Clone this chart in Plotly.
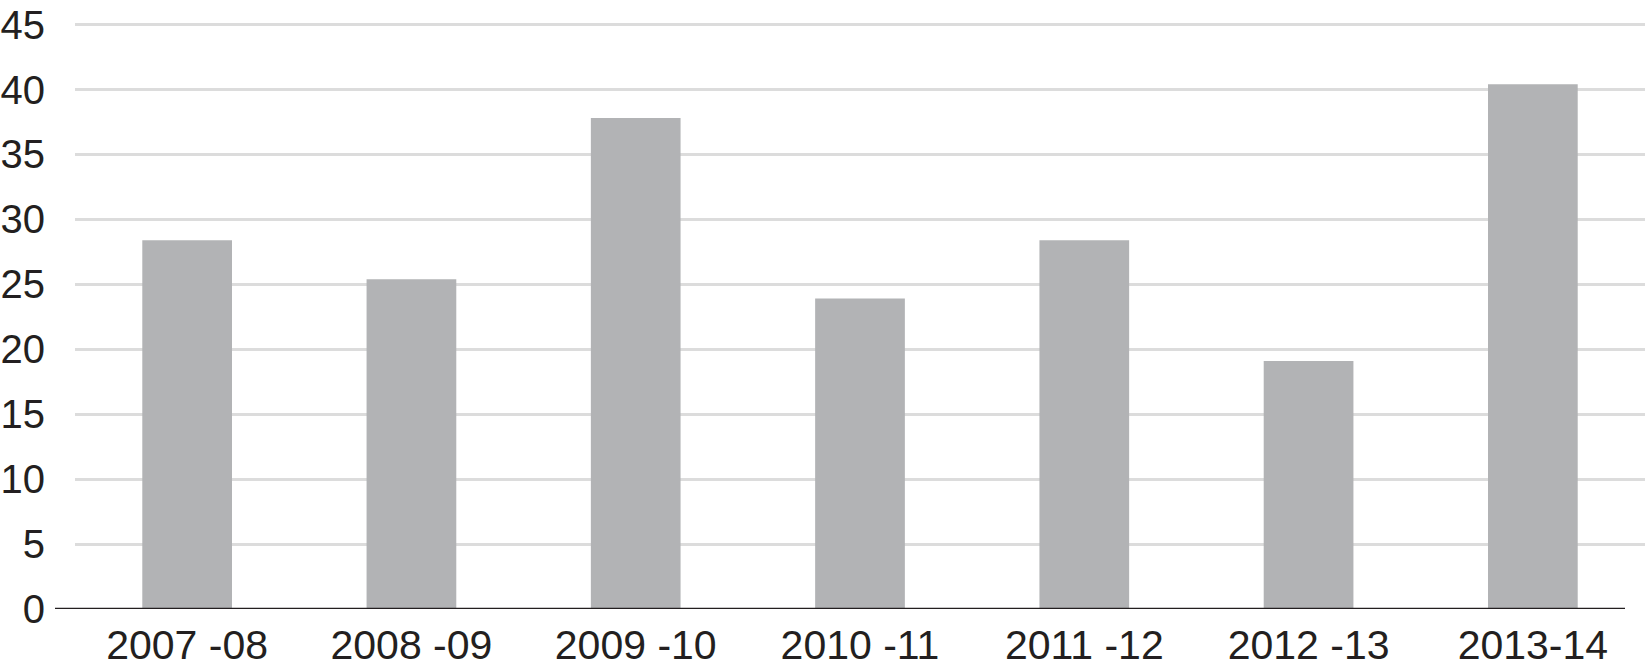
import plotly.graph_objects as go

categories = ["2007 -08", "2008 -09", "2009 -10", "2010 -11", "2011 -12", "2012 -13", "2013-14"]
values = [28.4, 25.4, 37.8, 23.9, 28.4, 19.1, 40.4]
y_ticks = [0, 5, 10, 15, 20, 25, 30, 35, 40, 45]

fig = go.Figure(go.Bar(x=categories, y=values, marker=dict(color="#b2b3b5", line=dict(width=0))))

W, H = 1645, 668
L, R, T, B = 75, 0, 22, 59
pw = W - L - R

fig.update_layout(
    width=W, height=H,
    margin=dict(l=L, r=R, t=T, b=B),
    plot_bgcolor="white", paper_bgcolor="white",
    bargap=0.6,
    showlegend=False,
    font=dict(family="Liberation Sans, Arial, sans-serif", size=40, color="#231f20"),
    xaxis=dict(showgrid=False, showline=False, ticks="", ticklabelstandoff=8,
               tickfont=dict(size=41), automargin=False),
    yaxis=dict(range=[0, 45.2], tickvals=y_ticks, showgrid=True, gridcolor="#dcdcdc",
               gridwidth=2.5, zeroline=False, showline=False, ticks="",
               ticklabelstandoff=29, tickfont=dict(size=40), automargin=False),
    shapes=[dict(type="line", xref="paper", yref="y",
                 x0=(55 - L) / pw, x1=(1625 - L) / pw, y0=0, y1=0,
                 line=dict(color="#231f20", width=2.5))],
)

fig.write_html("out.html", config={"displayModeBar": False},
               post_script="document.body.style.margin='0';document.body.style.overflow='hidden';")
